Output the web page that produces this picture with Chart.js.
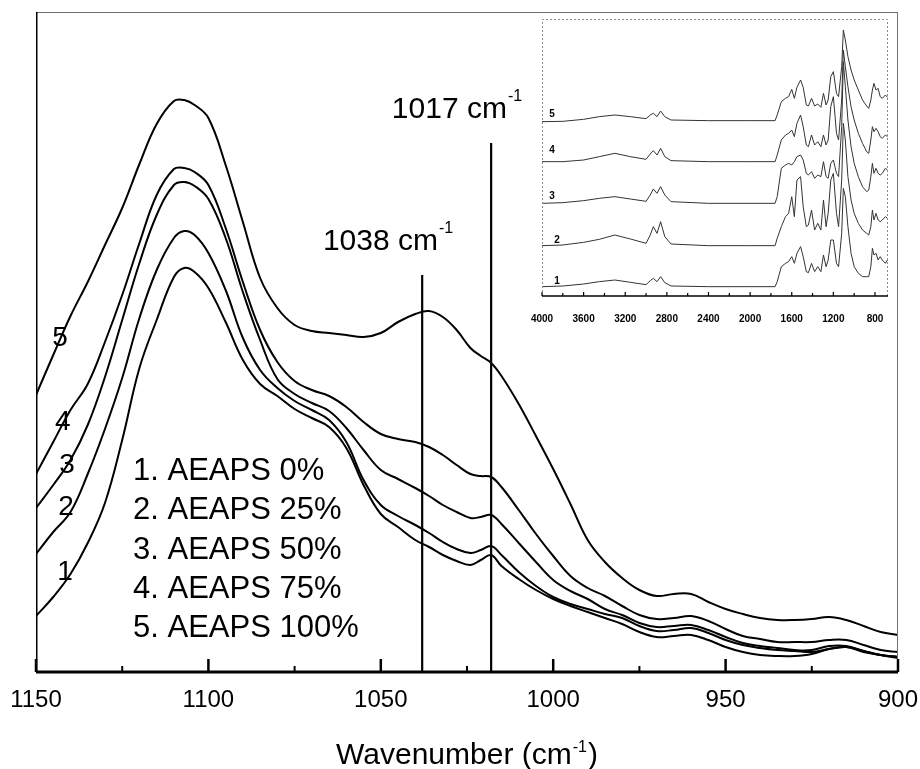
<!DOCTYPE html>
<html>
<head>
<meta charset="utf-8">
<script src="https://cdn.jsdelivr.net/npm/chart.js@4.4.1/dist/chart.umd.min.js"></script>
<style>
html,body{margin:0;padding:0;background:#fff;}
#wrap{position:relative;width:920px;height:769px;background:#fff;}
#main{position:absolute;left:0;top:0;}
#inset{position:absolute;left:520px;top:0;}
</style>
</head>
<body>
<div id="wrap">
<canvas id="main" width="920" height="769"></canvas>
<canvas id="inset" width="380" height="330"></canvas>
</div>
<script>
// ---------- main spectra (wavenumber in cm-1, absorbance a.u.) ----------
const wavenumbers = [1150,1145,1140,1135,1130,1125,1120,1115,1110,1107,1104,1100,1095,1090,1085,1080,1075,1070,1065,1060,1055,1050,1045,1040,1036,1032,1028,1024,1021,1018,1015,1010,1005,1000,995,990,985,980,975,970,965,960,955,950,945,940,935,930,925,920,915,910,905,900];
const aeaps0   = [0.112,0.150,0.196,0.258,0.338,0.464,0.608,0.704,0.790,0.808,0.800,0.768,0.700,0.624,0.576,0.552,0.526,0.508,0.490,0.448,0.374,0.316,0.290,0.264,0.250,0.234,0.222,0.214,0.224,0.234,0.212,0.186,0.164,0.146,0.132,0.120,0.108,0.096,0.080,0.070,0.072,0.074,0.064,0.050,0.040,0.034,0.032,0.032,0.036,0.046,0.050,0.042,0.034,0.028];
const aeaps25  = [0.236,0.280,0.320,0.396,0.486,0.588,0.708,0.804,0.868,0.882,0.874,0.838,0.764,0.668,0.604,0.568,0.542,0.524,0.504,0.460,0.384,0.334,0.312,0.294,0.278,0.260,0.246,0.238,0.244,0.252,0.234,0.200,0.172,0.150,0.136,0.126,0.116,0.108,0.092,0.082,0.084,0.088,0.078,0.064,0.054,0.048,0.044,0.042,0.040,0.046,0.050,0.040,0.034,0.030];
const aeaps50  = [0.328,0.374,0.424,0.494,0.590,0.704,0.818,0.914,0.974,0.980,0.972,0.946,0.868,0.760,0.664,0.586,0.556,0.538,0.522,0.488,0.444,0.404,0.386,0.368,0.352,0.334,0.320,0.308,0.310,0.314,0.296,0.258,0.220,0.184,0.162,0.146,0.126,0.114,0.098,0.090,0.092,0.094,0.084,0.070,0.058,0.052,0.048,0.044,0.044,0.052,0.052,0.042,0.034,0.030];
const aeaps75  = [0.396,0.460,0.524,0.576,0.660,0.754,0.858,0.954,1.006,1.008,1.000,0.974,0.888,0.780,0.684,0.620,0.582,0.564,0.552,0.530,0.500,0.476,0.466,0.460,0.450,0.434,0.414,0.396,0.392,0.390,0.370,0.324,0.276,0.232,0.192,0.168,0.152,0.132,0.114,0.106,0.108,0.112,0.102,0.086,0.072,0.066,0.060,0.060,0.060,0.064,0.064,0.054,0.044,0.040];
const aeaps100 = [0.554,0.634,0.712,0.780,0.854,0.928,1.016,1.096,1.142,1.144,1.134,1.108,1.014,0.900,0.788,0.728,0.694,0.682,0.678,0.674,0.670,0.678,0.700,0.716,0.722,0.710,0.684,0.648,0.632,0.618,0.592,0.536,0.472,0.406,0.336,0.264,0.220,0.188,0.164,0.152,0.156,0.156,0.140,0.126,0.116,0.108,0.104,0.104,0.106,0.110,0.104,0.092,0.080,0.074];

const seriesLabels = ['1. AEAPS 0%','2. AEAPS 25%','3. AEAPS 50%','4. AEAPS 75%','5. AEAPS 100%'];
const curveNumbers = ['1','2','3','4','5'];
const markerWavenumbers = [1038, 1018];
const markerHeights = [0.794, 1.058];
const markerLabels = ['1038 cm', '1017 cm'];
const markerSup = '-1';
const xTitle = 'Wavenumber (cm';
const xRange = [900, 1150];
const xTickLabels = [1150, 1100, 1050, 1000, 950, 900];
const xMinorStep = 25;

// ---------- inset: full-range spectra ----------
const insetWavenumbers = [4000,3800,3600,3450,3300,3150,3000,2960,2930,2895,2860,2820,2760,2400,2000,1760,1740,1700,1660,1630,1600,1575,1550,1515,1490,1460,1440,1410,1380,1350,1320,1295,1270,1250,1225,1200,1170,1150,1120,1104,1085,1060,1030,1000,960,920,880,860,840,825,810,790,770,750,730,700,680];
const inset1 = [4.0,4.2,4.8,5.5,6.0,5.3,4.6,5.8,6.5,5.5,7.0,5.2,4.2,4.0,4.0,4.0,5.5,10.0,11.0,11.5,13.0,11.0,14.0,16.0,13.0,8.5,8.2,11.0,8.5,10.0,8.5,13.5,10.0,12.0,18.0,18.0,11.0,10.0,20.0,33.5,31.0,22.0,14.0,10.0,8.0,7.0,7.0,7.0,10.0,15.5,13.5,14.0,12.0,13.0,12.0,11.0,12.0];
const inset2 = [16.3,16.5,17.3,18.2,19.5,18.3,17.0,19.5,22.0,20.0,23.5,19.0,16.8,16.3,16.3,16.3,18.5,22.0,25.0,26.0,31.0,25.0,36.0,37.0,28.0,22.0,22.5,27.0,21.0,23.0,21.0,30.0,22.0,26.0,36.0,38.0,26.0,22.0,36.0,53.0,48.0,37.0,30.0,26.0,23.0,21.0,20.0,19.5,22.0,27.0,24.0,26.0,24.0,23.5,24.0,25.0,24.5];
const inset3 = [29.0,29.2,29.8,30.5,31.0,30.3,29.6,31.5,33.3,32.0,34.0,31.5,29.5,29.0,29.0,29.0,31.0,39.5,40.5,41.0,40.5,41.5,43.0,43.5,42.0,38.0,37.5,38.5,36.5,37.5,37.0,41.5,37.0,36.5,41.0,42.0,38.0,37.0,52.0,71.5,64.0,54.0,46.0,41.0,37.0,34.0,32.5,33.0,37.0,41.0,38.0,39.5,38.0,37.5,38.0,39.5,39.0];
const inset4 = [41.5,41.5,42.0,43.0,44.0,43.0,42.2,43.8,44.8,43.5,45.5,43.0,41.8,41.5,41.5,41.5,43.5,48.0,49.5,50.0,51.0,49.0,53.0,55.5,52.0,46.5,46.0,49.5,46.5,47.5,46.0,49.5,46.5,48.0,58.0,61.0,50.0,48.0,60.0,75.0,70.0,64.0,58.0,54.0,50.0,47.0,44.5,44.0,48.0,52.0,50.5,51.5,50.5,49.0,48.5,49.5,49.0];
const inset5 = [53.5,53.6,54.2,55.0,55.5,55.0,54.4,55.5,56.0,55.0,56.7,55.0,54.0,53.8,53.8,53.8,55.5,59.5,60.5,61.0,63.2,60.5,63.8,66.0,63.8,58.5,58.2,60.5,58.2,58.8,57.8,62.0,58.5,60.0,67.0,68.5,62.0,61.0,70.0,81.0,78.0,73.0,69.0,66.0,63.0,60.0,58.2,57.5,60.0,63.0,65.0,63.0,63.5,61.0,60.5,61.5,60.8];
const insetRange = [675, 4000];
const insetTickLabels = [4000, 3600, 3200, 2800, 2400, 2000, 1600, 1200, 800];
const insetMinorStep = 200;

// ---------- styling / placement (not data) ----------
const FONT = "'Liberation Sans', Arial, Helvetica, sans-serif";
const NARROW = "'Liberation Sans Narrow', 'Arial Narrow', 'Liberation Sans', Arial, sans-serif";
const curveLabelAnchors = [[1141.6,0.200],[1141.3,0.330],[1141.0,0.414],[1142.2,0.500],[1143.0,0.668]];
const insetLabelAnchors = [[3856,5.5],[3856,18.0],[3904,31.2],[3904,44.8],[3904,55.7]];

function pts(xs, ys){ return xs.map((x,i)=>({x:x, y:ys[i]})); }
function noOverflowPad(s){ s.paddingLeft = 0; s.paddingRight = 0; s.paddingTop = 0; s.paddingBottom = 0; }

const mainSeries = [aeaps0, aeaps25, aeaps50, aeaps75, aeaps100];
const mainDatasets = mainSeries.map((s,i)=>({
  label: seriesLabels[i], data: pts(wavenumbers, s),
  borderColor:'#000', borderWidth:2, pointRadius:0, fill:false, tension:0.4
}));
markerWavenumbers.forEach((w,i)=>{
  mainDatasets.push({label:'marker '+markerLabels[i], data:[{x:w,y:0},{x:w,y:markerHeights[i]}],
    borderColor:'#000', borderWidth:2.2, pointRadius:0, fill:false, tension:0});
});

const mainDecor = {
  id:'mainDecor',
  afterDraw(chart){
    const ctx = chart.ctx, a = chart.chartArea, xs = chart.scales.x, ys = chart.scales.y;
    ctx.save();
    ctx.strokeStyle = '#707070'; ctx.lineWidth = 1;
    ctx.beginPath();
    ctx.moveTo(a.left, a.top+0.5); ctx.lineTo(a.right, a.top+0.5);
    ctx.moveTo(a.right-0.5, a.top); ctx.lineTo(a.right-0.5, a.bottom);
    ctx.stroke();
    ctx.strokeStyle = '#000'; ctx.lineWidth = 1.5;
    ctx.beginPath(); ctx.moveTo(a.left+0.75, a.top); ctx.lineTo(a.left+0.75, a.bottom); ctx.stroke();
    ctx.lineWidth = 3;
    ctx.beginPath(); ctx.moveTo(a.left, a.bottom); ctx.lineTo(a.right, a.bottom); ctx.stroke();
    for (let v = xRange[0]; v <= xRange[1]; v += xMinorStep){
      const px = xs.getPixelForValue(v);
      const major = xTickLabels.indexOf(v) >= 0;
      ctx.lineWidth = major ? 2.5 : 2;
      ctx.beginPath(); ctx.moveTo(px, a.bottom); ctx.lineTo(px, a.bottom - (major ? 13 : 6)); ctx.stroke();
    }
    ctx.fillStyle = '#000';
    ctx.font = '28px ' + FONT; ctx.textAlign = 'center'; ctx.textBaseline = 'middle';
    curveNumbers.forEach((t,i)=>{
      ctx.fillText(t, xs.getPixelForValue(curveLabelAnchors[i][0]), ys.getPixelForValue(curveLabelAnchors[i][1]));
    });
    ctx.font = '31px ' + FONT; ctx.textAlign = 'left'; ctx.textBaseline = 'alphabetic';
    seriesLabels.forEach((t,i)=>{ ctx.fillText(t, a.left + 97, a.top + 468 + i*39.3); });
    markerWavenumbers.forEach((w,i)=>{
      const lx = xs.getPixelForValue(w), ty = ys.getPixelForValue(markerHeights[i]);
      ctx.font = '30px ' + FONT; const w1 = ctx.measureText(markerLabels[i]).width;
      ctx.font = '16px ' + FONT; const w2 = ctx.measureText(markerSup).width;
      const x0 = lx + 31 - (w1 + w2 + 1), base = ty - 25;
      ctx.font = '30px ' + FONT; ctx.fillText(markerLabels[i], x0, base);
      ctx.font = '16px ' + FONT; ctx.fillText(markerSup, x0 + w1 + 1, base - 17);
    });
    ctx.font = '30px ' + FONT; const t1 = ctx.measureText(xTitle).width; const t3 = ctx.measureText(')').width;
    ctx.font = '16px ' + FONT; const t2 = ctx.measureText(markerSup).width;
    const total = t1 + t2 + t3 + 2;
    const cx = (a.left + a.right)/2;
    const tx = cx - total/2, tb = 764;
    ctx.font = '30px ' + FONT; ctx.fillText(xTitle, tx, tb);
    ctx.font = '16px ' + FONT; ctx.fillText(markerSup, tx + t1 + 1, tb - 12);
    ctx.font = '30px ' + FONT; ctx.fillText(')', tx + t1 + t2 + 2, tb);
    ctx.restore();
  }
};

new Chart(document.getElementById('main'), {
  type:'line',
  data:{ datasets: mainDatasets },
  options:{
    responsive:false, animation:false, devicePixelRatio:1,
    layout:{ padding:{ left:36, right:22, top:12, bottom:0 } },
    plugins:{ legend:{display:false}, tooltip:{enabled:false} },
    scales:{
      x:{ type:'linear', reverse:true, min:xRange[0], max:xRange[1],
          grid:{display:false}, border:{display:false},
          afterBuildTicks:(s)=>{ s.ticks = xTickLabels.map(v=>({value:v})); },
          ticks:{ color:'#000', font:{family:FONT, size:24}, padding:6,
                  maxRotation:0, autoSkip:false, callback:(v)=>String(v) },
          afterFit:(s)=>{ s.height = 97; noOverflowPad(s); } },
      y:{ type:'linear', display:false, min:0, max:1.32 }
    }
  },
  plugins:[mainDecor]
});

// ---------- inset chart ----------
const insetSeries = [inset1, inset2, inset3, inset4, inset5];
const insetDatasets = insetSeries.map((s,i)=>({
  label:'inset '+(i+1), data: pts(insetWavenumbers, s),
  borderColor:'#333', borderWidth:1, pointRadius:0, fill:false, tension:0
}));

const insetDecor = {
  id:'insetDecor',
  afterDraw(chart){
    const ctx = chart.ctx, a = chart.chartArea, xs = chart.scales.x, ys = chart.scales.y;
    ctx.save();
    ctx.setLineDash([2,2]); ctx.strokeStyle = '#8a8a8a'; ctx.lineWidth = 1;
    ctx.beginPath();
    ctx.moveTo(a.left+0.5, a.bottom); ctx.lineTo(a.left+0.5, a.top+0.5);
    ctx.lineTo(a.right-0.5, a.top+0.5); ctx.lineTo(a.right-0.5, a.bottom);
    ctx.stroke();
    ctx.setLineDash([]); ctx.strokeStyle = '#000'; ctx.lineWidth = 1.5;
    ctx.beginPath(); ctx.moveTo(a.left, a.bottom); ctx.lineTo(a.right, a.bottom); ctx.stroke();
    for (let v = 800; v <= insetRange[1]; v += insetMinorStep){
      const px = xs.getPixelForValue(v);
      const major = insetTickLabels.indexOf(v) >= 0;
      ctx.lineWidth = 1.2;
      ctx.beginPath(); ctx.moveTo(px, a.bottom); ctx.lineTo(px, a.bottom - (major ? 4 : 3)); ctx.stroke();
    }
    ctx.fillStyle = '#000'; ctx.font = 'bold 10px ' + FONT; ctx.textAlign = 'center'; ctx.textBaseline = 'middle';
    curveNumbers.forEach((t,i)=>{
      ctx.fillText(t, xs.getPixelForValue(insetLabelAnchors[i][0]), ys.getPixelForValue(insetLabelAnchors[i][1]));
    });
    ctx.restore();
  }
};

new Chart(document.getElementById('inset'), {
  type:'line',
  data:{ datasets: insetDatasets },
  options:{
    responsive:false, animation:false, devicePixelRatio:1,
    layout:{ padding:{ left:22, right:12, top:19, bottom:0 } },
    plugins:{ legend:{display:false}, tooltip:{enabled:false} },
    scales:{
      x:{ type:'linear', reverse:true, min:insetRange[0], max:insetRange[1],
          grid:{display:false}, border:{display:false},
          afterBuildTicks:(s)=>{ s.ticks = insetTickLabels.map(v=>({value:v})); },
          ticks:{ color:'#000', font:{family:NARROW, size:10, weight:'bold'}, padding:9,
                  maxRotation:0, autoSkip:false, callback:(v)=>String(v) },
          afterFit:(s)=>{ s.height = 34; noOverflowPad(s); } },
      y:{ type:'linear', display:false, min:1.2, max:84.3 }
    }
  },
  plugins:[insetDecor]
});
</script>
</body>
</html>
